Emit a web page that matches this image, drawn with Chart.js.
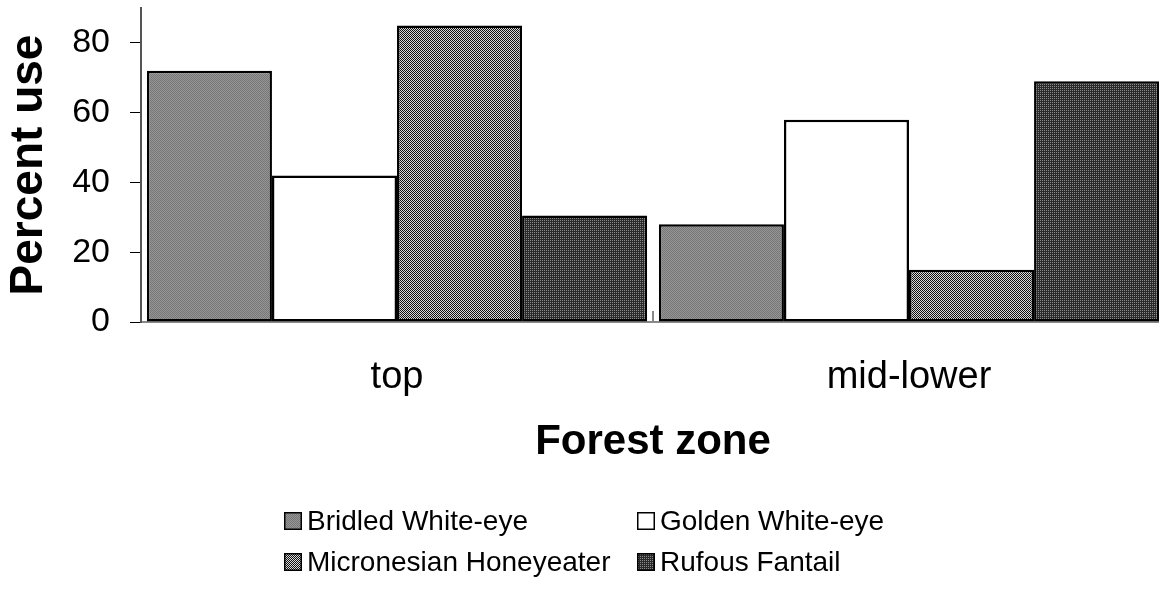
<!DOCTYPE html>
<html>
<head>
    <title>Percent use by forest zone</title>
    <script src="https://cdn.jsdelivr.net/npm/chart.js"></script>
    <style>
        body {
            margin: 0;
            overflow: hidden;
            background: #fff;
            font-family: "Liberation Sans", Arial, sans-serif;
        }

        .wrap {
            position: relative;
            width: 1165px;
            height: 592px;
        }

        .legend {
            position: absolute;
            left: 283px;
            top: 500px;
            display: grid;
            grid-template-columns: 353px auto;
            font-size: 28px;
            line-height: 41px;
            color: #000;
        }

        .legend-item {
            display: flex;
            align-items: center;
            white-space: nowrap;
        }

        .legend-item canvas {
            margin-right: 4px;
        }
    </style>
</head>
<body>
    <div class="wrap">
        <canvas id="zoneChart" width="1165" height="592"></canvas>
        <div id="legend" class="legend"></div>
    </div>

    <script>
        const categories = ["top", "mid-lower"];
        const seriesNames = ["Bridled White-eye", "Golden White-eye", "Micronesian Honeyeater", "Rufous Fantail"];
        const bridled = [72, 28];
        const golden = [42, 58];
        const micronesian = [85, 15];
        const rufous = [30.5, 69];
        const yTicks = [0, 20, 40, 60, 80];

        // small 2x2 tiles to imitate the dithered greys of the original
        function makePattern(c1, c2, c3, c4) {
            const tile = document.createElement("canvas");
            tile.width = 2;
            tile.height = 2;
            const t = tile.getContext("2d");
            t.fillStyle = c1; t.fillRect(0, 0, 1, 1);
            t.fillStyle = c2; t.fillRect(1, 0, 1, 1);
            t.fillStyle = c3; t.fillRect(0, 1, 1, 1);
            t.fillStyle = c4; t.fillRect(1, 1, 1, 1);
            return t.createPattern(tile, "repeat");
        }

        const fills = [
            makePattern("#767676", "#969696", "#969696", "#767676"),
            "#ffffff",
            makePattern("#111111", "#d8d8d8", "#d8d8d8", "#111111"),
            makePattern("#8a8a8a", "#2a2a2a", "#2a2a2a", "#2a2a2a")
        ];

        const values = [bridled, golden, micronesian, rufous];

        const datasets = seriesNames.map((name, i) => ({
            label: name,
            data: values[i],
            backgroundColor: fills[i],
            borderColor: "#000",
            borderWidth: 2.5,
            borderSkipped: false,
            barPercentage: 1,
            categoryPercentage: 0.977
        }));

        Chart.defaults.font.family = "'Liberation Sans', Arial, sans-serif";
        Chart.defaults.color = "#000";

        new Chart(document.getElementById("zoneChart"), {
            type: "bar",
            data: {
                labels: categories,
                datasets: datasets
            },
            options: {
                responsive: false,
                animation: false,
                layout: {
                    padding: { top: 8, left: 0, right: 0, bottom: 124 }
                },
                plugins: {
                    legend: { display: false },
                    tooltip: { enabled: false }
                },
                scales: {
                    x: {
                        // short grey mark between the two zones, pointing up
                        grid: {
                            display: true,
                            drawOnChartArea: false,
                            offset: true,
                            color: "#888",
                            lineWidth: 2,
                            tickLength: -11
                        },
                        border: { color: "#888", width: 2 },
                        ticks: {
                            padding: 44,
                            font: { size: 38 }
                        },
                        title: {
                            display: true,
                            text: "Forest zone",
                            font: { size: 42, weight: "bold" },
                            padding: { top: -27, bottom: 0 }
                        }
                    },
                    y: {
                        min: 0,
                        max: 90,
                        afterBuildTicks: scale => {
                            scale.ticks = yTicks.map(v => ({ value: v }));
                        },
                        afterFit: scale => {
                            scale.paddingTop = 0;
                            scale.paddingBottom = 0;
                        },
                        grid: {
                            drawOnChartArea: false,
                            color: "#000",
                            tickLength: 11
                        },
                        border: { color: "#555", width: 2 },
                        ticks: {
                            padding: 20,
                            font: { size: 34 }
                        },
                        title: {
                            display: true,
                            text: "Percent use",
                            font: { size: 46, weight: "bold" },
                            padding: { top: 2, bottom: -5 }
                        }
                    }
                }
            }
        });

        // html legend, two aligned columns like the original
        const legend = document.getElementById("legend");
        seriesNames.forEach((name, i) => {
            const item = document.createElement("div");
            item.className = "legend-item";
            const sw = document.createElement("canvas");
            sw.width = 20;
            sw.height = 20;
            const c = sw.getContext("2d");
            c.fillStyle = fills[i];
            c.fillRect(1, 1, 18, 18);
            c.strokeStyle = "#000";
            c.lineWidth = 1.5;
            c.strokeRect(1.75, 1.75, 16.5, 16.5);
            item.appendChild(sw);
            const span = document.createElement("span");
            span.textContent = name;
            item.appendChild(span);
            legend.appendChild(item);
        });
    </script>
</body>
</html>
